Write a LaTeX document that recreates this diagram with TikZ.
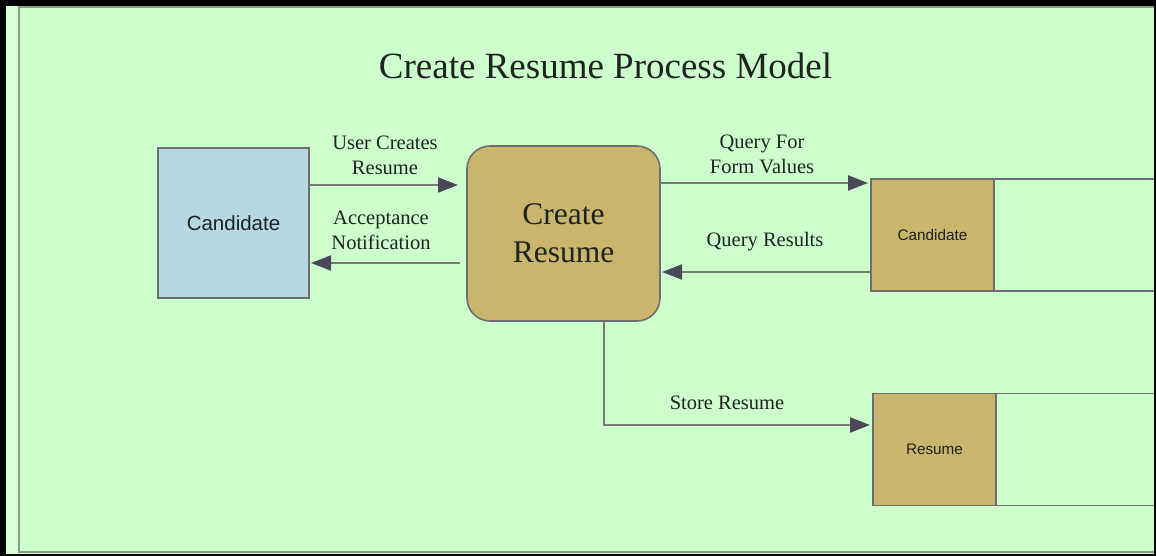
\documentclass[tikz,border=0pt]{standalone}
\usepackage{fontspec}
\setmainfont{Liberation Serif}
\newfontfamily\arialf{Liberation Sans}
\usetikzlibrary{arrows.meta}
\definecolor{bggreen}{HTML}{CCFFCC}
\definecolor{stripgreen}{HTML}{D8FFD8}
\definecolor{framegray}{HTML}{8A9A8A}
\definecolor{edgegray}{HTML}{6E6E72}
\definecolor{linegray}{HTML}{76787A}
\definecolor{headgray}{HTML}{4A4858}
\definecolor{tan}{HTML}{C9B66C}
\definecolor{lblue}{HTML}{B6D8E2}
\definecolor{txt}{HTML}{1E2220}
\tikzset{
  extbox/.style={draw=edgegray, line width=1.6pt, fill=lblue, minimum width=151pt, minimum height=150pt, font=\arialf\fontsize{20.5}{24}\selectfont, text=txt, inner sep=0pt, outer sep=0pt},
  procbox/.style={draw=edgegray, line width=1.6pt, fill=tan, rounded corners=23pt, minimum width=193pt, minimum height=175pt, font=\fontsize{31.5}{38}\selectfont, text=txt, align=center, inner sep=0pt, outer sep=0pt},
  storebox/.style={draw=edgegray, line width=1.6pt, fill=tan, minimum width=123pt, minimum height=112pt, font=\arialf\fontsize{15.3}{18}\selectfont, text=txt, inner sep=0pt, outer sep=0pt},
  storeline/.style={draw=edgegray, line width=1.6pt},
  flow/.style={draw=linegray, line width=2pt, -{Triangle[length=20pt,width=15pt,color=headgray]}},
  lbl/.style={font=\fontsize{20.5}{25}\selectfont, text=txt, align=center, inner sep=0pt},
  ttl/.style={font=\fontsize{37}{44}\selectfont, text=txt, inner sep=0pt}
}
\begin{document}
\begin{tikzpicture}[x=1pt,y=-1pt]
\useasboundingbox (0,0) rectangle (1156,556);
% frame
\fill[black] (0,0) rectangle (1156,556);
\fill[stripgreen] (6,6) rectangle (1154,554);
\fill[bggreen] (19,6) rectangle (1154,552);
\draw[framegray, line width=2pt] (19,553) -- (19,7) -- (1154,7);
\draw[framegray, line width=2pt] (19,552) -- (1154,552);

\node[ttl] (title) at (605.5,66) {Create Resume Process Model};

\node[extbox] (cand) at (233.5,223) {Candidate};
\node[procbox] (proc) at (563.5,233.5) {Create\\Resume};
\node[storebox] (store1) at (932.5,235) {Candidate};
\node[storebox] (store2) at (934.5,449.5) {Resume};

\coordinate (s1ne) at (1154,179);
\coordinate (s1se) at (1154,291);
\coordinate (s2ne) at (1154,393.5);
\coordinate (s2se) at (1154,505.5);
\draw[storeline] (store1.north east) -- (s1ne);
\draw[storeline] (store1.south east) -- (s1se);
\draw[storeline] (store2.north east) -- (s2ne);
\draw[storeline] (store2.south east) -- (s2se);

\draw[flow] ([yshift=38pt]cand.east) -- ([yshift=48.5pt,xshift=-9pt]proc.west);
\draw[flow] ([yshift=-29.5pt,xshift=-7pt]proc.west) -- ([yshift=-40pt,xshift=2pt]cand.east);
\draw[flow] ([yshift=50.5pt]proc.east) -- ([yshift=52pt,xshift=-3pt]store1.west);
\draw[flow] ([yshift=-37pt]store1.west) -- ([yshift=-38.5pt,xshift=2pt]proc.east);
\draw[flow] ([xshift=40.5pt]proc.south) |- ([yshift=24.5pt,xshift=-3pt]store2.west);

\node[lbl] (l1) at (385,155) {User Creates\\Resume};
\node[lbl] (l2) at (381,230) {Acceptance\\Notification};
\node[lbl] (l3) at (762,154) {Query For\\Form Values};
\node[lbl] (l4) at (765,242) {Query Results};
\node[lbl] (l5) at (727,403) {Store Resume};
\end{tikzpicture}
\end{document}
